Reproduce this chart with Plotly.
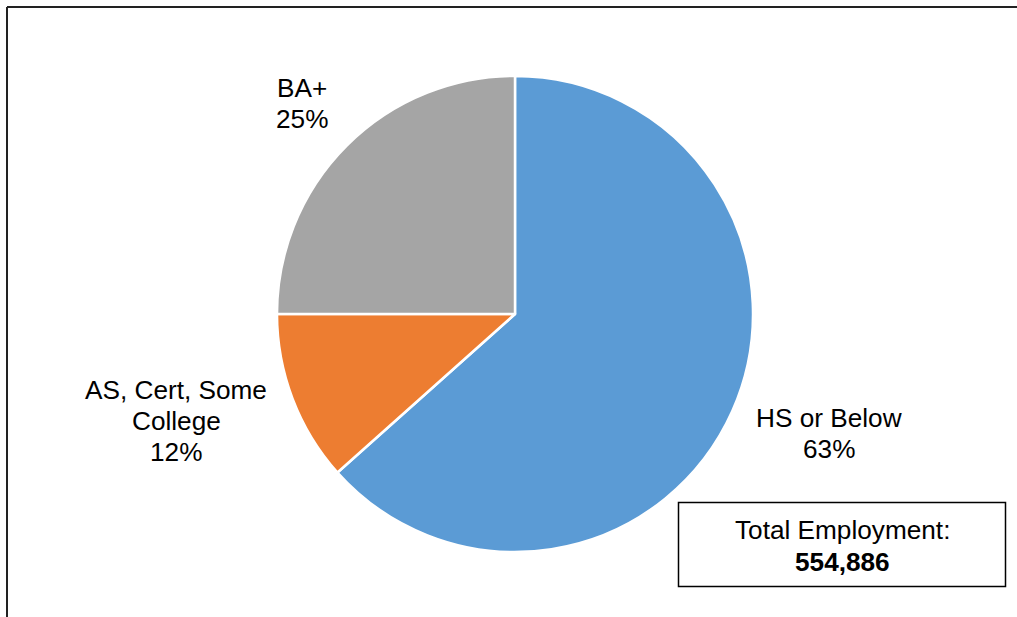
import plotly.graph_objects as go

categories = ["HS or Below", "AS, Cert, Some College", "BA+"]
shares = [63.4, 11.6, 25.0]
pct_labels = ["63%", "12%", "25%"]
label_lines = [["HS or Below", "63%"], ["AS, Cert, Some", "College", "12%"], ["BA+", "25%"]]
colors = ["#5B9BD5", "#ED7D31", "#A5A5A5"]
total_employment = "554,886"

W, H = 1017, 617
FONT = "Arial, Liberation Sans, sans-serif"
FS = 26.2

fig = go.Figure(go.Pie(
    labels=categories, values=shares, sort=False, direction="clockwise", rotation=0,
    marker=dict(colors=colors, line=dict(color="white", width=2.5)),
    textinfo="none", hoverinfo="label+percent", showlegend=False,
    domain=dict(x=[(515 - 238) / W, (515 + 238) / W], y=[(H - 314 - 238) / H, (H - 314 + 238) / H]),
))

# label anchor positions (centre x, first line centre y) in pixels
label_pos = [(829, 418), (176, 390), (302, 88)]
LS = 31
ann = []
for lines, (cx, cy) in zip(label_lines, label_pos):
    for i, t in enumerate(lines):
        ann.append(dict(x=cx / W, y=1 - (cy + i * LS) / H, xref="paper", yref="paper", text=t,
                        showarrow=False, xanchor="center", yanchor="middle",
                        font=dict(family=FONT, size=FS, color="black")))

ann.append(dict(x=842 / W, y=1 - 530 / H, xref="paper", yref="paper", text="Total Employment:",
                showarrow=False, xanchor="center", yanchor="middle",
                font=dict(family=FONT, size=FS, color="black")))
ann.append(dict(x=842 / W, y=1 - 562 / H, xref="paper", yref="paper", text="<b>" + total_employment + "</b>",
                showarrow=False, xanchor="center", yanchor="middle",
                font=dict(family=FONT, size=FS, color="black")))

shapes = [
    dict(type="rect", xref="paper", yref="paper", x0=678.5 / W, x1=1005.5 / W, y0=1 - 586.5 / H, y1=1 - 502.5 / H,
         line=dict(color="black", width=1.5), fillcolor="white", layer="below"),
    dict(type="line", xref="paper", yref="paper", x0=7 / W, x1=1.02, y0=1 - 7 / H, y1=1 - 7 / H,
         line=dict(color="#222222", width=2)),
    dict(type="line", xref="paper", yref="paper", x0=7 / W, x1=7 / W, y0=1 - 7 / H, y1=-0.02,
         line=dict(color="#222222", width=2)),
]

fig.update_layout(width=W, height=H, margin=dict(l=0, r=0, t=0, b=0),
                  paper_bgcolor="white", plot_bgcolor="white",
                  annotations=ann, shapes=shapes)
fig.write_html("out.html")
